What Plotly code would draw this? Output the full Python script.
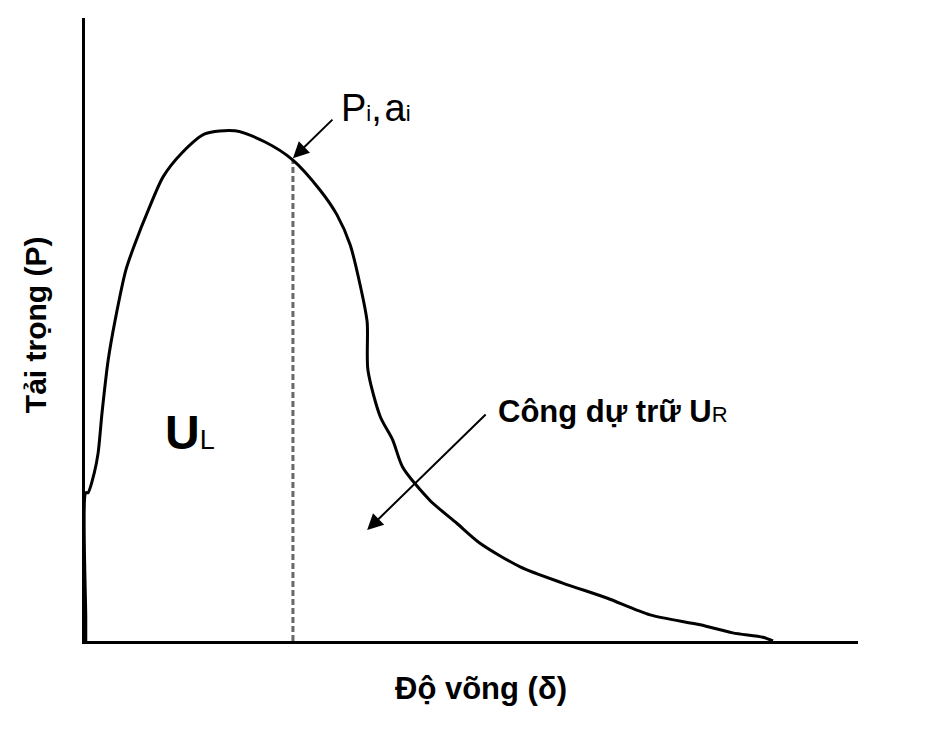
"""Load-deflection curve with energy regions U_L / U_R (Vietnamese labels)."""
import plotly.graph_objects as go

FONT = "Liberation Sans, Arial, sans-serif"

# Deflection (arbitrary units, 0-100) and load (arbitrary units, 0-100)
deflection = [0.1, 0.1, 0.1, 0.4, 1.2, 1.7, 2.2, 3.0, 3.9, 5.3, 6.5, 8.2, 10.1,
              12.5, 15.5, 19.4, 23.3, 26.9, 30.4, 32.6, 34.3, 35.6, 36.5, 36.6,
              38.2, 39.8, 41.1, 44.6, 48.1, 51.1, 56.3, 61.8, 67.5, 73.1, 79.6,
              83.8, 87.7, 89.0]
load = [0.0, 3.7, 23.8, 23.8, 27.0, 30.2, 36.6, 45.1, 51.5, 59.6, 63.9, 69.2, 74.5,
        78.3, 81.4, 81.9, 80.1, 77.2, 72.4, 68.4, 63.6, 57.1, 51.2, 43.5,
        36.0, 32.3, 27.9, 22.6, 18.9, 15.7, 11.9, 9.3, 6.9, 4.2, 2.6,
        1.3, 0.6, 0.0]

# Point (P_i, a_i) on the descending branch
pi_x, pi_y = 26.9, 77.2

fig = go.Figure()

fig.add_trace(go.Scatter(
    x=[pi_x, pi_x], y=[0, pi_y], mode="lines",
    line=dict(color="#686868", width=3, dash="6px,3px"),
    showlegend=False, hoverinfo="skip",
))
fig.add_trace(go.Scatter(
    x=deflection, y=load, mode="lines",
    line=dict(color="black", width=3, shape="spline", smoothing=0.75),
    showlegend=False, hoverinfo="skip",
))

annotations = [
    # arrow to (P_i, a_i)
    dict(x=pi_x, y=pi_y + 0.3, text="", showarrow=True, ax=41, ay=-40,
         arrowhead=2, arrowsize=1.6, arrowwidth=2, arrowcolor="black"),
    dict(x=37.6, y=85.5, xanchor="center", yanchor="middle", showarrow=False,
         text="P<span style='font-size:22px'>i</span>,<span style='font-size:10px'> </span>"
              "a<span style='font-size:22px'>i</span>",
         font=dict(family=FONT, size=38, color="black")),
    # arrow to U_R region
    dict(x=36.5, y=17.8, text="", showarrow=True, ax=120, ay=-117,
         arrowhead=2, arrowsize=1.6, arrowwidth=2, arrowcolor="black"),
    dict(x=53.2, y=36.8, xanchor="left", yanchor="middle", showarrow=False,
         text="<b>Công dự trữ U</b><span style='font-size:22px'>R</span>",
         font=dict(family=FONT, size=31, color="black")),
    dict(x=13.6, y=33.5, xanchor="center", yanchor="middle", showarrow=False,
         text="<b>U</b><span style='font-size:27px'>L</span>",
         font=dict(family=FONT, size=48, color="black")),
    # axis titles
    dict(x=51.2, y=0, yref="paper", yshift=-47, xanchor="center", yanchor="middle",
         showarrow=False, text="<b>Độ võng (δ)</b>",
         font=dict(family=FONT, size=31, color="black")),
    dict(x=0, xref="paper", xshift=-50, y=0.507, yref="paper", textangle=-90,
         xanchor="center", yanchor="middle", showarrow=False,
         text="<b>Tải trọng (P)</b>",
         font=dict(family=FONT, size=30, color="black")),
]

# the page adds an 8px body margin, so the plot area is set 8px up/left
fig.update_layout(
    width=945, height=744,
    margin=dict(l=77, r=95, t=10, b=111),
    paper_bgcolor="white", plot_bgcolor="white",
    showlegend=False,
    annotations=annotations,
    xaxis=dict(range=[0, 100], showline=True, linecolor="black", linewidth=3,
               showgrid=False, zeroline=False, showticklabels=False, ticks=""),
    yaxis=dict(range=[0, 100], showline=True, linecolor="black", linewidth=3,
               showgrid=False, zeroline=False, showticklabels=False, ticks=""),
)

fig.write_html("out.html")
